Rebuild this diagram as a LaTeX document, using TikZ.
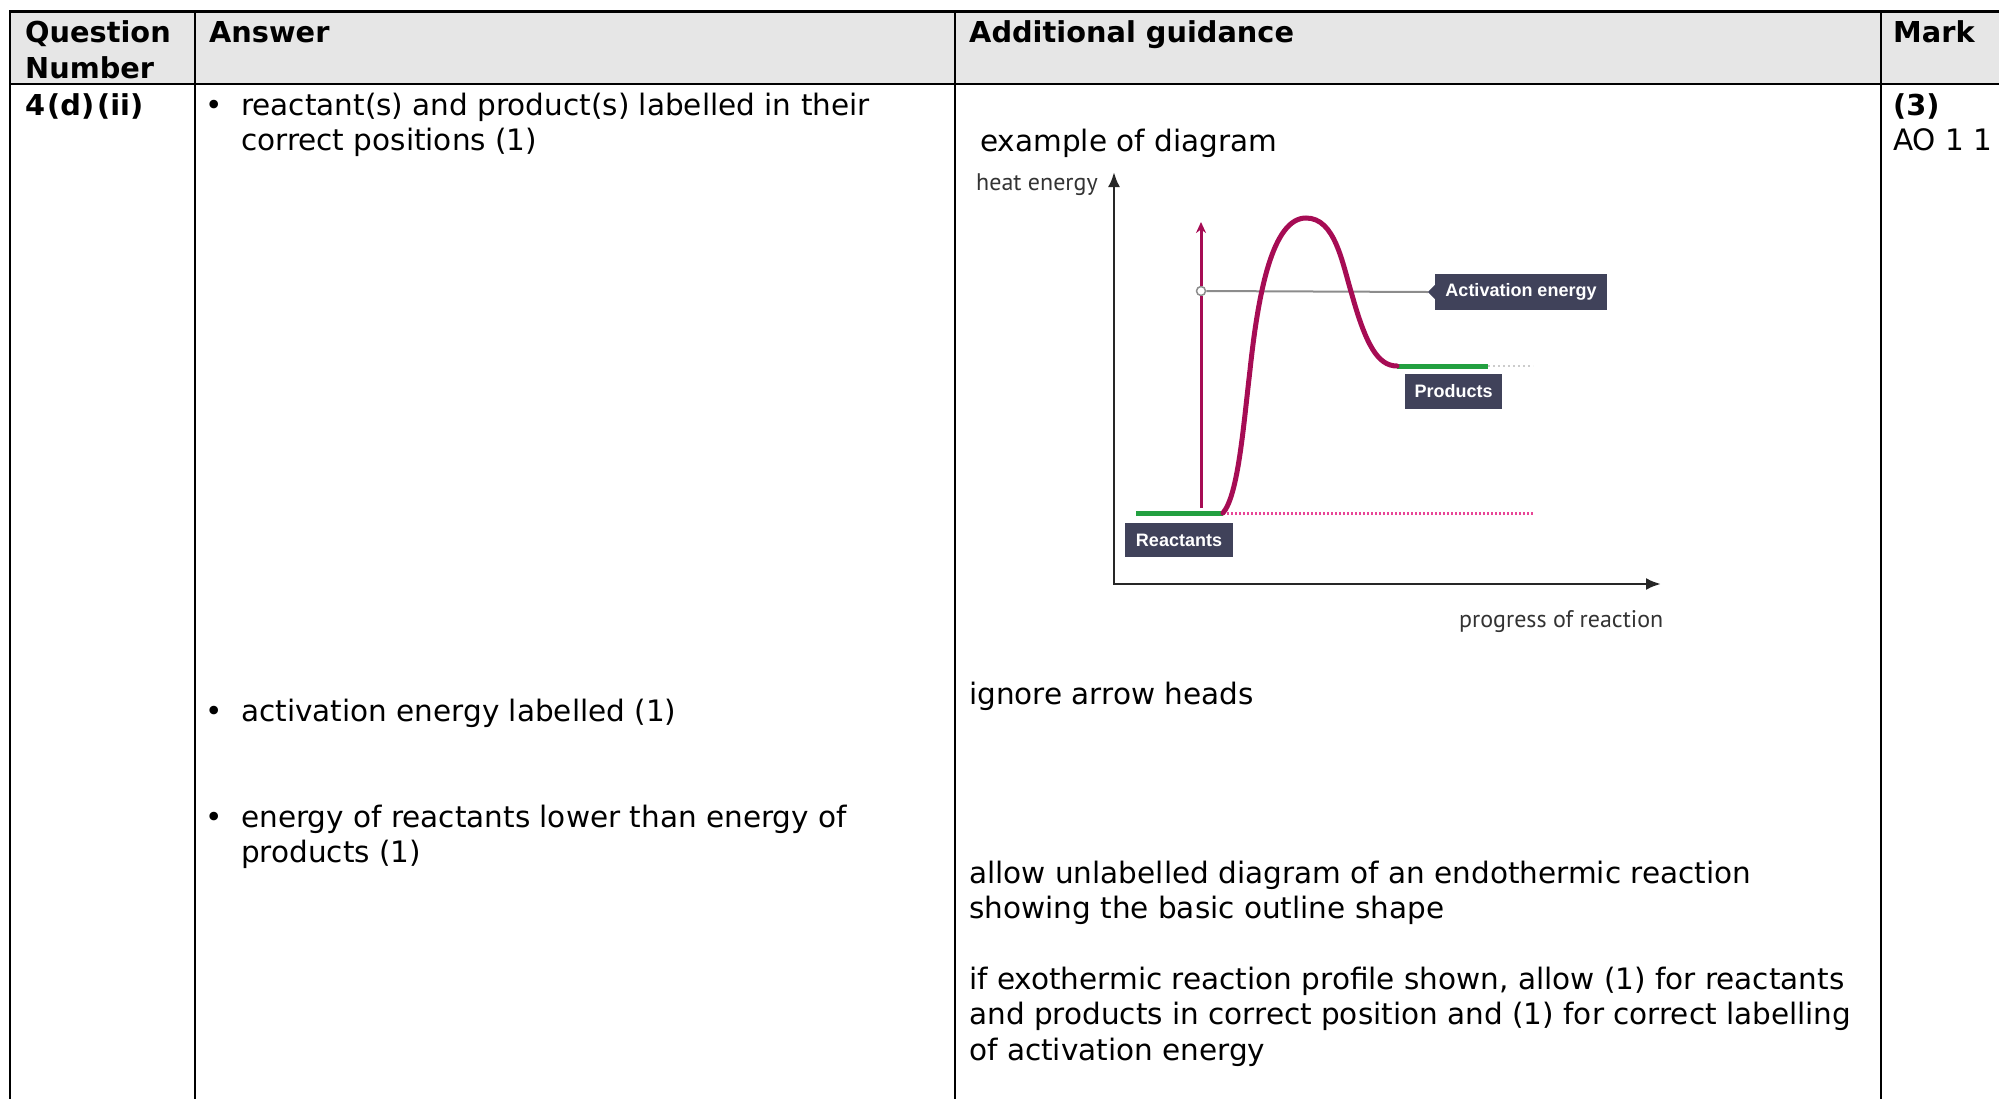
\documentclass[tikz,border=0pt]{standalone}
\usepackage{fontspec}
\setmainfont{DejaVu Sans}
\newfontfamily\plotfont{PT Sans}
\newfontfamily\tagfont{Liberation Sans}
\usetikzlibrary{arrows.meta}

\definecolor{headgray}{RGB}{230,230,230}
\definecolor{curvered}{RGB}{166,12,84}
\definecolor{levelgreen}{RGB}{34,160,64}
\definecolor{tagbg}{RGB}{64,66,90}
\definecolor{dotpink}{RGB}{232,70,150}
\definecolor{guide}{RGB}{140,140,140}

\tikzset{
  txt/.style={anchor=base west, inner sep=0pt, font=\fontsize{29.5}{35.7}\selectfont},
  hd/.style={anchor=base west, inner sep=0pt, font=\fontsize{28.8}{35.7}\selectfont\bfseries},
  rule/.style={line width=2.6pt, line cap=rect},
  tag/.style={fill=tagbg, text=white, inner sep=0pt, font=\tagfont\fontsize{18}{18}\selectfont\bfseries},
  axlbl/.style={anchor=base west, inner sep=0pt, text=black!80, font=\plotfont\fontsize{24}{24}\selectfont},
}

\begin{document}
\begin{tikzpicture}[x=1pt,y=-1pt]
\useasboundingbox (0,0) rectangle (1999,1098);
\fill[headgray] (10,11.5) rectangle (1999,84);
% table rules
\draw[rule] (10,11.5) -- (1999,11.5);
\draw[rule] (10,84) -- (1999,84);
\draw[rule] (10,11.5) -- (10,1100);
\draw[rule] (195,11.5) -- (195,1100);
\draw[rule] (955,11.5) -- (955,1100);
\draw[rule] (1881,11.5) -- (1881,1100);
%
\draw (25,42) node[hd] (qhead) {Question};
\draw (25,78) node[hd] (nhead) {Number};
\draw (209,42) node[hd] (ahead) {Answer};
\draw (969,42) node[hd] (ghead) {Additional guidance};
\draw (1893,42) node[hd] (mhead) {Mark};
%
\draw (25,115) node[hd] (qnum) {4\kern2pt(d)\kern3pt(ii)};
\draw (1893,115) node[hd] (mark) {(3)};
\draw (1893,150.5) node[txt] (ao) {AO 1 1};
%
\draw (205,115) node[txt] (bulA) {•};
\draw (241,115) node[txt] (ansA1) {reactant(s) and product(s) labelled in their};
\draw (241,150.5) node[txt] (ansA2) {correct positions (1)};
\draw (205,721.5) node[txt] (bulB) {•};
\draw (241,721.5) node[txt] (ansB) {activation energy labelled (1)};
\draw (205,827) node[txt] (bulC) {•};
\draw (241,827) node[txt] (ansC1) {energy of reactants lower than energy of};
\draw (241,862.5) node[txt] (ansC2) {products (1)};
%
\draw (980,151) node[txt] (gex) {example of diagram};
\draw (969,704) node[txt] (garrow) {ignore arrow heads};
\draw (969,883) node[txt] (gallow1) {allow unlabelled diagram of an endothermic reaction};
\draw (969,918.5) node[txt] (gallow2) {showing the basic outline shape};
\draw (969,989) node[txt] (gexo1) {if exothermic reaction profile shown, allow (1) for reactants};
\draw (969,1024.5) node[txt] (gexo2) {and products in correct position and (1) for correct labelling};
\draw (969,1060) node[txt] (gexo3) {of activation energy};
%
% energy profile
\coordinate (ytop) at (1114,172);
\coordinate (orig) at (1114,584);
\coordinate (xend) at (1661,584);
\draw[line width=2.6pt, black!85, {Latex[length=15pt,width=12pt]}-{Latex[length=15pt,width=12pt]}] (ytop) -- (orig) -- (xend);
\draw (976,190) node[axlbl] (ylbl) {heat energy};
\draw (1459,627) node[axlbl] (xlbl) {progress of reaction};
%
\coordinate (reactL) at (1136,513);
\coordinate (reactR) at (1223,513);
\coordinate (prodL) at (1397,366);
\coordinate (prodR) at (1488,366);
\coordinate (dotend) at (1533,513);
\coordinate (prodend) at (1533,366);
\draw[dotpink, line width=3pt, dash pattern=on 2pt off 2pt] (reactR) -- (dotend);
\draw[black!20, line width=2pt, dash pattern=on 2pt off 3pt] (prodR) -- (prodend);
%
\node[tag, minimum width=172pt, minimum height=36pt] (acttag) at (1521,292) {Activation energy};
\fill[tagbg] ([yshift=7pt]acttag.west) -- ([xshift=-7pt]acttag.west) -- ([yshift=-7pt]acttag.west) -- cycle;
\node[tag, minimum width=97pt, minimum height=35pt] (prodtag) at (1453.5,391.5) {Products};
\node[tag, minimum width=108pt, minimum height=34pt] (reacttag) at (1179,540) {Reactants};
%
\node[circle, draw=guide, fill=white, line width=1.5pt, inner sep=0pt, minimum size=9pt] (eamark) at (1201,291) {};
\draw[guide, line width=2pt] (eamark) -- ([xshift=-7pt]acttag.west);
\coordinate (eabase) at (1201,508);
\coordinate (eatop) at (1201,222);
\draw[curvered, line width=3pt, -{Stealth[length=11pt,width=10pt]}] (eabase) -- (eamark) -- (eatop);
%
\draw[levelgreen, line width=5pt] (reactL) -- (reactR);
\draw[levelgreen, line width=5pt] (prodL) -- (prodR);
\draw[curvered, line width=5pt, line cap=round] (reactR) .. controls (1238,495) and (1243,430) .. (1250,370)
  .. controls (1258,295) and (1272,218) .. (1306,218)
  .. controls (1335,218) and (1342,262) .. (1352,295)
  .. controls (1366,345) and (1378,366) .. (prodL);
\end{tikzpicture}
\end{document}
